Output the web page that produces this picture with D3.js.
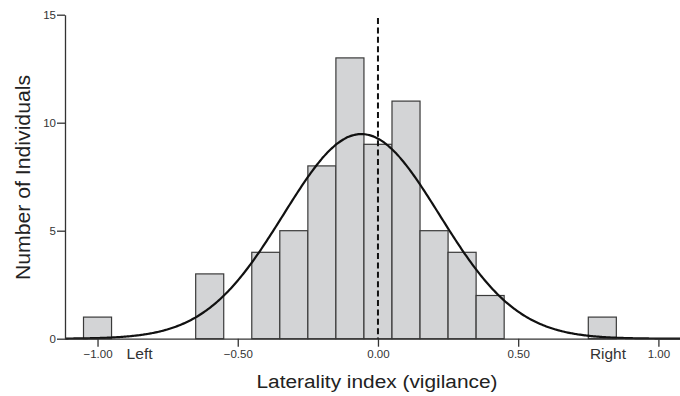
<!DOCTYPE html>
<html>
<head>
<meta charset="utf-8">
<script src="https://cdn.jsdelivr.net/npm/d3@7"></script>
<style>
  html, body { margin: 0; padding: 0; background: #fff; }
  svg { display: block; font-family: "Liberation Sans", Arial, sans-serif; }
</style>
</head>
<body>
<svg id="chart" width="680" height="396"></svg>
<script>
// Histogram bins of the laterality index (width 0.10) and their counts
const binStarts = [-1.05, -0.65, -0.45, -0.35, -0.25, -0.15, -0.05, 0.05, 0.15, 0.25, 0.35, 0.75];
const binCounts = [1, 3, 4, 5, 8, 13, 9, 11, 5, 4, 2, 1];
const binWidth = 0.1;
const xTicks = [-1.0, -0.5, 0.0, 0.5, 1.0];
const yTicks = [0, 5, 10, 15];
const sideLabels = [{ text: "Left", value: -0.85, len: 26 }, { text: "Right", value: 0.82, len: 36 }];

const svg = d3.select("#chart");
const margin = { left: 65, right: 0, top: 14.7, bottom: 57.3 };
const W = 680, H = 396;

const x = d3.scaleLinear().domain([-1.116, 1.077]).range([margin.left, W - margin.right]);
const y = d3.scaleLinear().domain([0, 15]).range([H - margin.bottom, margin.top]);

// Normal curve fitted to the binned data (mean, sample SD), scaled to counts
const N = d3.sum(binCounts);
const centers = binStarts.map(s => s + binWidth / 2);
const mean = d3.sum(centers, (c, i) => c * binCounts[i]) / N;
const variance = d3.sum(centers, (c, i) => binCounts[i] * (c - mean) ** 2) / (N - 1);
const sd = Math.sqrt(variance);
const density = v => N * binWidth / (sd * Math.sqrt(2 * Math.PI)) * Math.exp(-0.5 * ((v - mean) / sd) ** 2);

// Bars
svg.append("g")
  .selectAll("rect")
  .data(binStarts.map((s, i) => ({ s, n: binCounts[i] })))
  .join("rect")
  .attr("x", d => x(d.s))
  .attr("width", d => x(d.s + binWidth) - x(d.s))
  .attr("y", d => y(d.n))
  .attr("height", d => y(0) - y(d.n))
  .attr("fill", "#d3d4d6")
  .attr("stroke", "#3a3a3a")
  .attr("stroke-width", 1.2);

// Dashed reference line at zero
svg.append("line")
  .attr("x1", x(0)).attr("x2", x(0))
  .attr("y1", 18).attr("y2", y(0))
  .attr("stroke", "#111")
  .attr("stroke-width", 2)
  .attr("stroke-dasharray", "6,3.4");

// Normal curve
const curvePts = d3.range(0, 401).map(i => {
  const v = x.domain()[0] + (x.domain()[1] - x.domain()[0]) * i / 400;
  return [v, density(v)];
});
svg.append("path")
  .datum(curvePts)
  .attr("fill", "none")
  .attr("stroke", "#111")
  .attr("stroke-width", 2.2)
  .attr("d", d3.line().x(d => x(d[0])).y(d => y(d[1])).curve(d3.curveBasis));

// Axes
const xAxis = svg.append("g")
  .attr("transform", `translate(0,${y(0)})`)
  .call(d3.axisBottom(x).tickValues(xTicks).tickFormat(d3.format(".2f")).tickSize(8).tickSizeOuter(0).tickPadding(3));
const yAxis = svg.append("g")
  .attr("transform", `translate(${margin.left},0)`)
  .call(d3.axisLeft(y).tickValues(yTicks).tickSize(8).tickSizeOuter(0).tickPadding(1));

[xAxis, yAxis].forEach(g => {
  g.select(".domain").attr("stroke", "#333").attr("stroke-width", 1.3);
  g.selectAll(".tick line").attr("stroke", "#333").attr("stroke-width", 1.3);
  g.selectAll(".tick text").attr("fill", "#333").attr("font-size", 11.5)
    .attr("font-family", "Liberation Sans, Arial, sans-serif");
});

// Direction labels under the x axis
svg.append("g")
  .selectAll("text")
  .data(sideLabels)
  .join("text")
  .attr("x", d => x(d.value))
  .attr("y", 359)
  .attr("text-anchor", "middle")
  .attr("font-size", 14.5)
  .attr("fill", "#333")
  .attr("textLength", d => d.len)
  .attr("lengthAdjust", "spacingAndGlyphs")
  .text(d => d.text);

// Axis titles
svg.append("text")
  .attr("x", 377)
  .attr("y", 388)
  .attr("text-anchor", "middle")
  .attr("font-size", 18)
  .attr("fill", "#222")
  .attr("textLength", 241)
  .attr("lengthAdjust", "spacingAndGlyphs")
  .text("Laterality index (vigilance)");

svg.append("text")
  .attr("transform", `translate(29.5,177.5) rotate(-90)`)
  .attr("text-anchor", "middle")
  .attr("font-size", 19.5)
  .attr("fill", "#222")
  .attr("textLength", 205)
  .attr("lengthAdjust", "spacingAndGlyphs")
  .text("Number of Individuals");
</script>
</body>
</html>
